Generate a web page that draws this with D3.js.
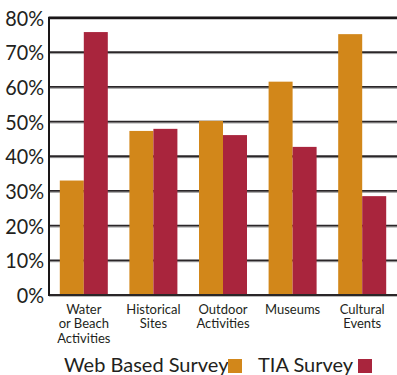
<!DOCTYPE html>
<html><head><meta charset="utf-8">
<script src="https://cdn.jsdelivr.net/npm/d3@7"></script>
<style>html,body{margin:0;padding:0;background:#fff;}svg{display:block;}</style>
</head><body>
<svg id="c" width="397" height="375"></svg>
<script>
const categories = [["Water","or Beach","Activities"],["Historical","Sites"],["Outdoor","Activities"],["Museums"],["Cultural","Events"]];
const webSurvey = [33, 47.3, 50.2, 61.5, 75.2];
const tiaSurvey = [75.8, 47.9, 46.1, 42.7, 28.5];
const yTicks = [0,10,20,30,40,50,60,70,80];
const seriesNames = ["Web Based Survey","TIA Survey"];
const colors = ["#D2871A","#A9253D"];

(function(){
const svg = d3.select("#c");
const pL = 49, pR = 397, pT = 17.5, pB = 295;
const x = d3.scaleBand().domain(d3.range(categories.length)).range([pL, pR]);
const y = d3.scaleLinear().domain([0,80]).range([pB, pT]);
const barW = 24;
const font = "Lato, 'Open Sans', sans-serif";

const g = svg.append("g");
yTicks.filter(t => t > 0 && t < 80).forEach(t => {
  g.append("line").attr("x1", pL).attr("x2", pR).attr("y1", y(t)+1.4).attr("y2", y(t)+1.4)
    .attr("stroke", "#9a9a9a").attr("stroke-width", 1);
  g.append("line").attr("x1", pL).attr("x2", pR).attr("y1", y(t)).attr("y2", y(t))
    .attr("stroke", "#2a2628").attr("stroke-width", 1.8);
});

const series = [webSurvey, tiaSurvey];
series.forEach((vals, si) => {
  svg.append("g").selectAll("rect").data(vals).join("rect")
    .attr("x", (d,i) => x(i) + x.bandwidth()/2 - barW + si*barW)
    .attr("width", barW)
    .attr("y", d => y(d))
    .attr("height", d => y(0) - y(d))
    .attr("fill", colors[si]);
});

svg.append("line").attr("x1", pL).attr("x2", pR).attr("y1", y(80)-1).attr("y2", y(80)-1)
  .attr("stroke", "#aaa").attr("stroke-width", 1);
svg.append("line").attr("x1", pL-1).attr("x2", pR).attr("y1", y(80)+0.5).attr("y2", y(80)+0.5)
  .attr("stroke", "#1a1718").attr("stroke-width", 2.4);
svg.append("line").attr("x1", pL).attr("x2", pR).attr("y1", y(0)+1.3).attr("y2", y(0)+1.3)
  .attr("stroke", "#aaa").attr("stroke-width", 1);
svg.append("line").attr("x1", pL).attr("x2", pR).attr("y1", y(0)).attr("y2", y(0))
  .attr("stroke", "#2a2628").attr("stroke-width", 2);
svg.append("line").attr("x1", pL).attr("x2", pL).attr("y1", y(80)-0.5).attr("y2", y(0)+1)
  .attr("stroke", "#1a1718").attr("stroke-width", 2);

svg.append("g").selectAll("text").data(yTicks).join("text")
  .attr("transform", d => `translate(44,${y(d) + 8}) scale(0.9,1)`)
  .attr("text-anchor", "end")
  .attr("font-family", font).attr("font-size", 22)
  .attr("fill", "#231f20")
  .text(d => d + "%");

categories.forEach((lines, i) => {
  const t = svg.append("text").attr("text-anchor", "middle")
    .attr("font-family", font).attr("font-size", 14).attr("fill", "#231f20")
    .attr("transform", `translate(${x(i) + x.bandwidth()/2},0) scale(0.93,1)`);
  lines.forEach((ln, j) => {
    t.append("tspan").attr("x", 0).attr("y", 314 + j*14.5).text(ln);
  });
});

const lg = svg.append("g");
lg.append("text").attr("x", 64).attr("y", 372).attr("font-family", font).attr("font-size", 20)
  .attr("fill", "#231f20").text(seriesNames[0]);
lg.append("rect").attr("x", 228).attr("y", 359).attr("width", 14).attr("height", 14).attr("fill", colors[0]);
lg.append("text").attr("x", 258).attr("y", 372).attr("font-family", font).attr("font-size", 20)
  .attr("fill", "#231f20").text(seriesNames[1]);
lg.append("rect").attr("x", 358).attr("y", 359).attr("width", 14).attr("height", 14).attr("fill", colors[1]);
})();
</script>
</body></html>
